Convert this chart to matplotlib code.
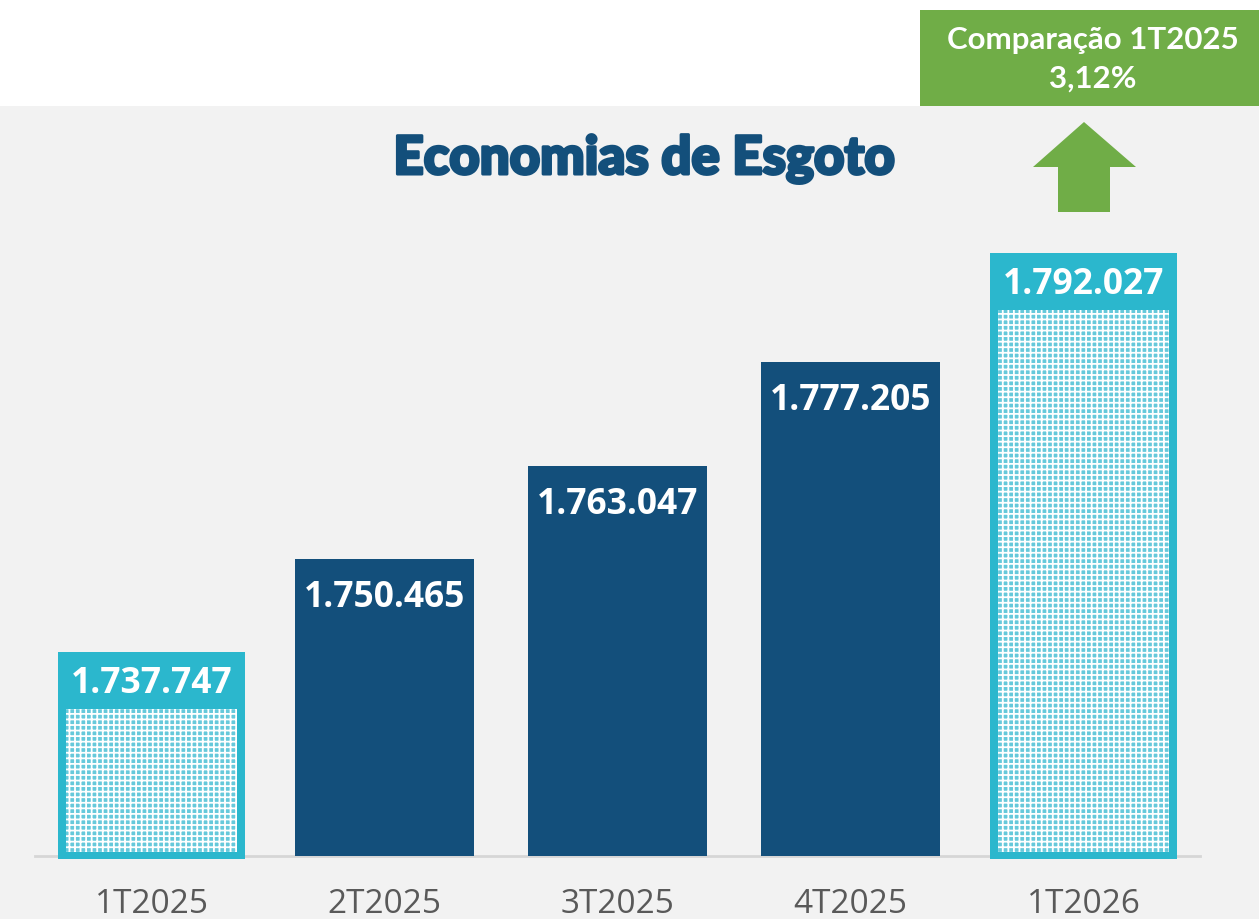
import matplotlib
matplotlib.use("Agg")
import matplotlib.pyplot as plt
from matplotlib.patches import Rectangle, Polygon
import matplotlib.patheffects as pe

# ---- data ----
categories = ["1T2025", "2T2025", "3T2025", "4T2025", "1T2026"]
values = [1737747, 1750465, 1763047, 1777205, 1792027]
highlight = [True, False, False, False, True]
title = "Economias de Esgoto"
compare_label = "Comparação 1T2025"
compare_value = "3,12%"

# ---- style ----
W, H = 1259, 920
DARK = "#134f7b"
CYAN = "#2bb7cd"
GREEN = "#70ad47"
BG = "#f2f2f2"

fig = plt.figure(figsize=(W / 100, H / 100), dpi=100, facecolor="white")

def fx(px):
    return px / W

def fy(py):
    return 1 - py / H

# grey panel
fig.patches.append(Rectangle((0, 0), 1, fy(107), transform=fig.transFigure,
                             facecolor=BG, edgecolor="none", zorder=-5))

# axes placed in pixel coordinates
ax_left, ax_right, ax_bottom, ax_top = 35, 1200, 857, 200
ax = fig.add_axes([fx(ax_left), fy(ax_bottom), fx(ax_right - ax_left),
                   fy(ax_top) - fy(ax_bottom)])
ax.set_zorder(3)
ax.set_facecolor("none")
ymin = 1710000
px_per_unit = 0.00735
ymax = ymin + (ax_bottom - ax_top) / px_per_unit
ax.set_xlim(-0.5, len(categories) - 0.5)
ax.set_ylim(ymin, ymax)
for s in ["left", "right", "top"]:
    ax.spines[s].set_visible(False)
ax.spines["bottom"].set_color("#d6d6d6")
ax.spines["bottom"].set_linewidth(2)
ax.set_yticks([])
ax.set_xticks(range(len(categories)))
ax.set_xticklabels(categories, fontsize=24, color="#595959", family="Open Sans")
ax.tick_params(axis="x", length=0, pad=22)

def dy(px):
    return px / px_per_unit

plt.rcParams["hatch.linewidth"] = 1.3
for i, (v, hl) in enumerate(zip(values, highlight)):
    if hl:
        ax.bar(i, v - ymin + dy(3), bottom=ymin - dy(3), width=0.80,
               color=CYAN, zorder=3, clip_on=False)
        ax.bar(i, v - ymin - dy(60) - dy(1), bottom=ymin + dy(4), width=0.73,
               facecolor="#66c9db", edgecolor="white", linewidth=0,
               hatch="+++", zorder=4)
        ty = v - dy(31)
    else:
        ax.bar(i, v - ymin, bottom=ymin, width=0.77, color=DARK, zorder=3)
        ty = v - dy(38)
    ax.text(i, ty, f"{v:,}".replace(",", "."), ha="center", va="center",
            color="white", fontsize=25.5, fontweight="bold", family="Open Sans",
            zorder=5)

# title
fig.text(fx(644), fy(175), title, ha="center", va="baseline",
         fontsize=38, fontweight="black", family="Lato", color=DARK,
         path_effects=[pe.withStroke(linewidth=2.2, foreground=DARK)])

# green comparison box
fig.patches.append(Rectangle((fx(920), fy(107)), fx(W - 920), fy(11) - fy(107),
                             transform=fig.transFigure, facecolor=GREEN,
                             edgecolor="none", zorder=2))
fig.text(fx(1093), fy(40), compare_label, ha="center", va="center",
         fontsize=22.5, fontweight="bold", family="Lato", color="white", zorder=3)
fig.text(fx(1093), fy(79), compare_value, ha="center", va="center",
         fontsize=22.5, fontweight="bold", family="Lato", color="white", zorder=3)

# up arrow
arrow_px = [(1084, 123), (1136, 168), (1110, 168), (1110, 213),
            (1058, 213), (1058, 168), (1033, 168)]
fig.patches.append(Polygon([(fx(x), fy(y)) for x, y in arrow_px], closed=True,
                           transform=fig.transFigure, facecolor=GREEN,
                           edgecolor="none", zorder=2))

fig.savefig("out.png", dpi=100, facecolor=fig.get_facecolor())
